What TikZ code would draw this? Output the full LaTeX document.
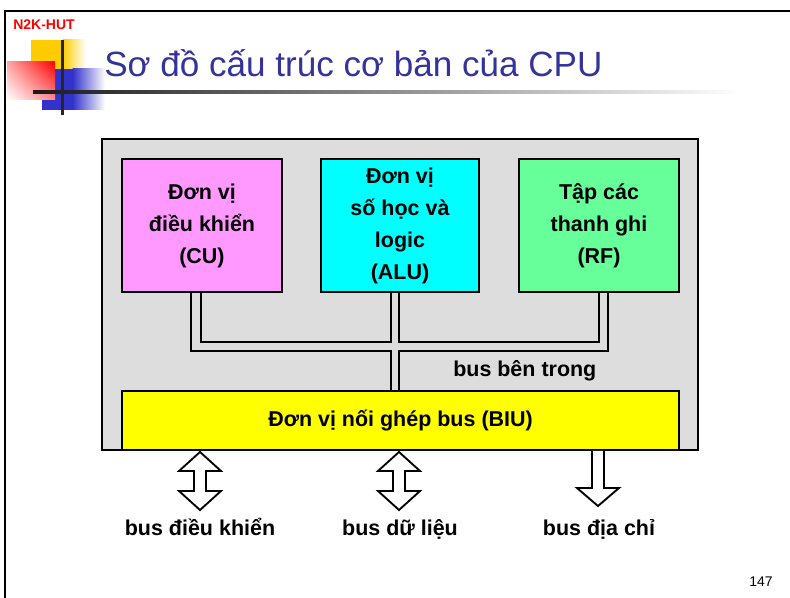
\documentclass[tikz,border=0pt]{standalone}
\usepackage{fontspec}
\setmainfont{Liberation Sans}
\usetikzlibrary{calc,shadings}
\definecolor{titleblue}{RGB}{51,51,153}
\definecolor{cupink}{RGB}{255,153,255}
\definecolor{alucyan}{RGB}{0,255,255}
\definecolor{rfgreen}{RGB}{102,255,153}
\definecolor{biuyellow}{RGB}{255,255,0}
\definecolor{cpugray}{RGB}{221,221,221}
\definecolor{logoyellow}{RGB}{255,204,0}
\definecolor{logoblue}{RGB}{51,51,204}
\tikzset{
  unitbox/.style={draw=black, line width=1.5pt, inner sep=0pt, align=center,
    font=\bfseries\fontsize{16.1}{24}\selectfont},
  busline/.style={draw=black, line width=1.5pt},
  hollowarrow/.style={draw=black, line width=1.4pt, fill=white, line join=miter},
  buslabel/.style={font=\bfseries\fontsize{16.1}{18}\selectfont, inner sep=0pt},
}
\begin{document}
\begin{tikzpicture}[x=0.75pt, y=-0.75pt]
\useasboundingbox (0,0) rectangle (790,598);
\fill[white] (0,0) rectangle (790,598);
% slide frame
\draw[line width=2pt] (5,598) -- (5,11) -- (790,11);
% logo
\fill[logoyellow] (31,40) rectangle (63,69);
\shade[left color=logoyellow, right color=white] (62.5,40) rectangle (86,69);
\fill[logoblue] (42,69) rectangle (73,110);
\shade[left color=logoblue, right color=white] (72.5,69) rectangle (105,110);
\shade[upper right=red, upper left=red!35, lower right=red!45, lower left=white] (7,62) rectangle (55,100);
\shade[left color=black!90, middle color=black!60, right color=white] (33,91) rectangle (740,94);
\fill[black!85] (61,40) rectangle (63.5,115);
\node[anchor=west, text=red, font=\bfseries\fontsize{10.5}{12}\selectfont, inner sep=0pt] (logo) at (13,25) {N2K-HUT};
% title
\node[anchor=base west, text=titleblue, font=\fontsize{26.3}{30}\selectfont, inner sep=0pt] (title) at (104,77) {Sơ đồ cấu trúc cơ bản của CPU};
% CPU box
\node[draw=black, line width=1.5pt, fill=cpugray, minimum width=447pt, minimum height=233.25pt, inner sep=0pt] (cpu) at (400,294.5) {};
\node[unitbox, fill=cupink, minimum width=120pt, minimum height=99.75pt] (cu) at (202,225.5) {Đơn vị\\điều khiển\\(CU)};
\node[unitbox, fill=alucyan, minimum width=118.5pt, minimum height=99.75pt] (alu) at (400,225.5) {Đơn vị\\số học và\\logic\\(ALU)};
\node[unitbox, fill=rfgreen, minimum width=120pt, minimum height=99.75pt] (rf) at (599,225.5) {Tập các\\thanh ghi\\(RF)};
\node[unitbox, fill=biuyellow, minimum width=417.75pt, minimum height=44.25pt, font=\bfseries\fontsize{16.1}{18}\selectfont] (biu) at (400.5,420.5) {Đơn vị nối ghép bus (BIU)};
% internal bus
\draw[busline] ($(cu.south)+(-11,0)$) |- ($(biu.north)+(-9.5,-39)$) -- ($(biu.north)+(-9.5,0)$);
\draw[busline] ($(cu.south)+(-1,0)$) |- ($(alu.south)+(-9,49)$) -- ($(alu.south)+(-9,0)$);
\draw[busline] ($(alu.south)+(-1,0)$) |- ($(rf.south)+(0,49)$) -- ($(rf.south)+(0,0)$);
\draw[busline] ($(rf.south)+(9,0)$) |- ($(biu.north)+(-1.5,-39)$) -- ($(biu.north)+(-1.5,0)$);
\node[buslabel, anchor=base west] (inner) at (453,377) {bus bên trong};
% external bus arrows
\coordinate (ctl) at ($(biu.south west)+(79,0)$);
\coordinate (dat) at ($(biu.south west)+(278,0)$);
\coordinate (adr) at ($(biu.south west)+(477,0)$);
\draw[hollowarrow] ($(ctl)+(0,1)$) -- ++(21,19) -- ++(-15,0) -- ++(0,20) -- ++(15,0) -- ++(-21,19) -- ++(-21,-19) -- ++(15,0) -- ++(0,-20) -- ++(-15,0) -- cycle;
\draw[hollowarrow] ($(dat)+(0,1)$) -- ++(21,19) -- ++(-15,0) -- ++(0,20) -- ++(15,0) -- ++(-21,19) -- ++(-21,-19) -- ++(15,0) -- ++(0,-20) -- ++(-15,0) -- cycle;
\draw[hollowarrow] ($(adr)+(-6,0)$) -- ++(0,37) -- ++(-15,0) -- ++(21,18) -- ++(21,-18) -- ++(-15,0) -- ++(0,-37);
\node[buslabel, anchor=base] (lctl) at (200,536) {bus điều khiển};
\node[buslabel, anchor=base] (ldat) at (400,536) {bus dữ liệu};
\node[buslabel, anchor=base] (ladr) at (599,536) {bus địa chỉ};
% page number
\node[anchor=base east, font=\fontsize{10.5}{12}\selectfont, inner sep=0pt] (page) at (773,587) {147};
\end{tikzpicture}
\end{document}
